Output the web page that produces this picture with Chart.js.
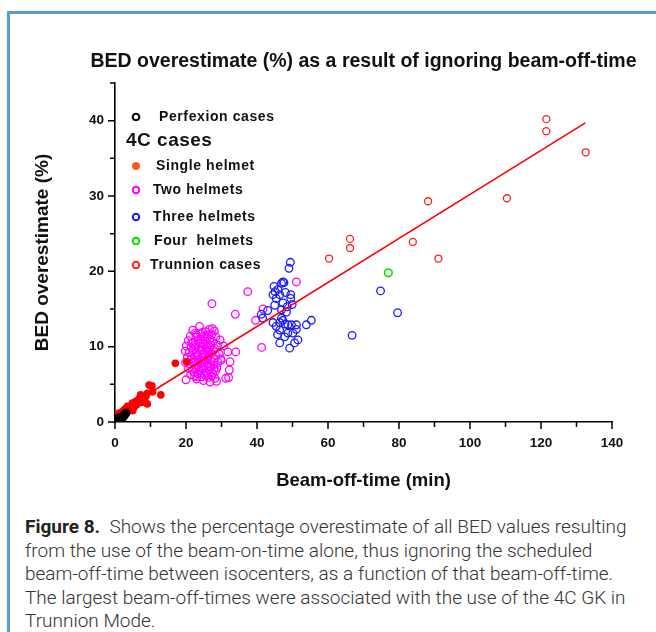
<!DOCTYPE html>
<html>
<head>
<meta charset="utf-8">
<script src="https://cdn.jsdelivr.net/npm/chart.js@4.4.1/dist/chart.umd.min.js"></script>
<style>
  html, body { margin: 0; padding: 0; background: #fff; }
  body { width: 656px; height: 632px; position: relative; overflow: hidden; }
  .frame {
    position: absolute; left: 7px; top: 11px; right: -10px; bottom: -10px;
    border-left: 3px solid #5b9bd5; border-top: 3px solid #5b9bd5;
  }
  #wrap { position: absolute; left: 0; top: 0; width: 656px; height: 500px; }
  .caption {
    position: absolute; left: 25px; top: 515px;
    font-family: Roboto, "Liberation Sans", sans-serif; font-weight: 300;
    font-size: 19px; line-height: 23.5px; color: #333; white-space: nowrap;
  }
  .caption b { font-weight: 700; color: #222; }
</style>
</head>
<body>
<div class="frame"></div>
<div id="wrap"><canvas id="chart" width="656" height="500"></canvas></div>
<div class="caption">
  <div><b>Figure 8.</b>&nbsp; Shows the percentage overestimate of all BED values resulting</div>
  <div>from the use of the beam-on-time alone, thus ignoring the scheduled</div>
  <div>beam-off-time between isocenters, as a function of that beam-off-time.</div>
  <div>The largest beam-off-times were associated with the use of the 4C GK in</div>
  <div>Trunnion Mode.</div>
</div>
<script>
// Beam-off-time (min) vs BED overestimate (%)
const chartTitle = 'BED overestimate (%) as a result of ignoring beam-off-time';

const perfexionX = [0.2, 0.4, 0.5, 0.7, 0.8, 1.0, 1.1, 1.3, 1.4, 1.6, 1.7, 1.9, 2.0, 2.2, 2.3, 2.5, 2.6, 2.8, 3.0, 3.2, 0.9, 1.5, 2.1, 0.3, 1.2];
const perfexionY = [0.1, 0.1, 0.2, 0.3, 0.2, 0.4, 0.3, 0.5, 0.4, 0.6, 0.5, 0.7, 0.6, 0.8, 0.7, 0.9, 0.8, 1.0, 1.1, 1.2, 0.5, 0.3, 0.5, 0.0, 0.6];

const singleX = [0.1, 1.1, 1.6, 2.1, 2.6, 3.0, 3.4, 3.5, 3.9, 4.0, 4.4, 4.6, 4.9, 5.2, 5.4, 5.8, 6.1, 6.3, 6.8, 7.2, 7.7, 8.2, 8.7, 9.1, 9.1, 9.6, 10.4, 10.6, 12.9, 17.0, 20.2, 5.0, 6.5, 7.5];
const singleY = [0.0, 1.2, 1.1, 1.4, 1.6, 1.8, 1.4, 2.1, 1.7, 2.0, 1.6, 2.2, 2.5, 1.9, 2.0, 2.7, 2.3, 2.5, 3.1, 3.6, 3.4, 2.9, 3.4, 3.8, 2.4, 4.9, 4.8, 4.0, 3.6, 7.8, 8.0, 1.5, 2.9, 2.6];

const twoX = [
  21.9, 23.8, 26.6, 28.0, 22.6, 24.6, 25.5, 27.3, 21.2, 23.1,
  24.1, 25.9, 26.8, 28.4, 20.6, 22.0, 23.4, 24.7, 25.3, 26.2,
  27.5, 28.9, 20.1, 21.4, 22.5, 23.7, 24.3, 25.6, 26.7, 27.8,
  19.8, 20.9, 22.1, 23.0, 24.0, 24.9, 25.9, 26.4, 27.2, 28.3,
  29.4, 20.4, 21.6, 22.7, 23.5, 24.5, 25.4, 26.1, 27.0, 28.0,
  29.0, 19.9, 21.0, 22.2, 23.3, 24.2, 25.0, 26.0, 26.9, 27.8,
  28.7, 20.7, 21.8, 22.9, 23.9, 24.8, 25.7, 26.6, 27.5, 28.4,
  21.3, 22.4, 23.4, 24.4, 25.3, 26.3, 27.2, 28.2, 23.0, 24.9,
  26.8, 20.0, 22.8, 23.9, 25.1, 24.4, 25.8, 23.3, 24.7, 25.6,
  22.4, 26.5, 23.7, 24.1, 22.9, 26.0, 27.4, 21.6, 27.0, 28.0,
  21.5, 29.8, 22.3, 25.9, 27.9, 24.3, 23.1, 26.3,
  27.3, 37.4, 33.9, 39.6, 41.7, 41.3, 51.1, 29.9, 31.8, 34.0,
  32.4, 32.2, 31.2, 32.0, 28.6, 30.6, 29.6
];
const twoY = [
  12.2, 12.7, 12.3, 12.1, 11.8, 11.9, 12.0, 11.6, 11.4, 11.3,
  11.0, 11.2, 11.0, 11.3, 10.8, 10.6, 10.7, 10.4, 10.8, 10.3,
  10.6, 10.2, 10.1, 9.9, 10.2, 9.8, 10.0, 9.7, 9.9, 9.5,
  9.4, 9.2, 9.5, 9.1, 9.4, 9.0, 9.3, 8.8, 9.1, 8.9,
  9.0, 8.6, 8.4, 8.7, 8.3, 8.6, 8.2, 8.5, 8.1, 8.4,
  7.9, 7.9, 7.7, 7.9, 7.5, 7.8, 7.4, 7.7, 7.3, 7.6,
  7.2, 7.1, 6.9, 7.2, 6.8, 7.0, 6.6, 6.9, 6.5, 6.8,
  6.3, 6.1, 6.4, 6.0, 6.2, 5.9, 6.1, 5.8, 5.7, 5.5,
  5.3, 5.6, 10.0, 10.5, 11.4, 9.6, 10.0, 8.9, 8.0, 8.8,
  8.1, 7.4, 7.2, 11.7, 11.6, 11.6, 12.4, 10.5, 10.2, 9.8,
  8.8, 8.4, 6.6, 6.3, 7.0, 7.3, 6.0, 9.5,
  15.7, 17.3, 14.3, 13.5, 15.0, 9.9, 18.6, 8.2, 9.3, 9.3,
  8.0, 6.9, 5.8, 5.9, 5.4, 10.1, 10.9
];

const threeX = [
  49.4, 49.0, 47.3, 46.9, 47.6, 44.8, 45.9, 44.5, 45.4, 46.4,
  49.5, 49.5, 45.0, 47.3, 46.9, 48.3, 41.2, 41.6, 46.9, 47.3,
  46.4, 44.5, 45.4, 48.7, 49.7, 51.1, 51.1, 53.9, 55.3, 46.4,
  48.7, 50.1, 47.8, 46.4, 49.2, 50.6, 51.5, 43.0, 45.1, 48.5,
  47.9, 45.8, 49.9, 48.0, 66.8, 74.8, 79.6
];
const threeY = [
  21.2, 20.4, 18.6, 18.4, 18.5, 18.0, 17.6, 16.9, 16.4, 16.9,
  16.9, 16.4, 15.5, 15.8, 14.9, 14.6, 14.3, 13.8, 13.8, 13.5,
  13.2, 13.2, 12.7, 12.9, 12.9, 12.9, 12.3, 12.9, 13.5, 12.2,
  11.8, 11.8, 11.3, 10.5, 9.8, 10.5, 10.9, 14.8, 17.3, 15.3,
  13.0, 11.6, 15.6, 17.2, 11.5, 17.4, 14.5
];

const fourX = [77.0];
const fourY = [19.8];

const trunnionX = [60.3, 66.2, 66.2, 83.9, 88.2, 91.1, 110.4, 121.5, 121.5, 132.6];
const trunnionY = [21.7, 24.3, 23.1, 23.9, 29.3, 21.7, 29.7, 40.2, 38.6, 35.8];

const fitX = [0, 132.5];
const fitY = [1.0, 39.7];

const legendLabels = ['Perfexion cases', '4C cases', 'Single helmet', 'Two helmets', 'Three helmets', 'Four  helmets', 'Trunnion cases'];
const legendColors = ['#000000', null, '#ff5a1e', '#ff00ff', '#1a1aff', '#00e000', '#ff2020'];

const axisFont = '"Liberation Sans", Arial, sans-serif';

const pts = (xs, ys) => xs.map((x, i) => ({ x: x, y: ys[i] }));

// title centred over the plot area
const plotTitle = {
  id: 'plotTitle',
  afterDraw (chart) {
    const { ctx, chartArea } = chart;
    ctx.save();
    ctx.font = 'bold 19.5px ' + axisFont;
    ctx.fillStyle = '#111';
    ctx.textAlign = 'center';
    ctx.textBaseline = 'middle';
    ctx.fillText(chartTitle, (chartArea.left + chartArea.right) / 2, chartArea.top - 21);
    ctx.restore();
  }
};

// tick marks: long at labelled values, short in between
const tickMarks = {
  id: 'tickMarks',
  afterDraw (chart) {
    const { ctx, scales: { x, y } } = chart;
    ctx.save();
    ctx.strokeStyle = '#000';
    ctx.lineWidth = 1.5;
    ctx.beginPath();
    x.ticks.forEach(t => {
      const px = x.getPixelForValue(t.value);
      ctx.moveTo(px, x.top);
      ctx.lineTo(px, x.top + (t.value % 20 === 0 ? 7 : 5));
    });
    y.ticks.forEach(t => {
      const py = y.getPixelForValue(t.value);
      ctx.moveTo(y.right, py);
      ctx.lineTo(y.right - (t.value % 10 === 0 ? 7 : 5), py);
    });
    ctx.stroke();
    ctx.restore();
  }
};

// legend block in the upper left of the plot
const plotLegend = {
  id: 'plotLegend',
  afterDraw (chart) {
    const { ctx, chartArea } = chart;
    const rowY = [34, 58, 83, 107, 134, 158, 182];
    const textX = [44, 11, 41, 38, 38, 39, 35];
    const markX = chartArea.left + 21;
    ctx.save();
    ctx.textBaseline = 'middle';
    ctx.textAlign = 'left';
    legendLabels.forEach((label, i) => {
      const yy = chartArea.top + rowY[i];
      const color = legendColors[i];
      if (color) {
        ctx.beginPath();
        if (i === 2) {
          ctx.fillStyle = color;
          ctx.arc(markX, yy, 4, 0, Math.PI * 2);
          ctx.fill();
        } else {
          ctx.arc(markX, yy, 3.3, 0, Math.PI * 2);
          ctx.strokeStyle = color;
          ctx.lineWidth = 2;
          ctx.stroke();
        }
        ctx.font = 'bold 14px ' + axisFont;
        ctx.letterSpacing = '0.6px';
      } else {
        ctx.font = 'bold 19px ' + axisFont;
        ctx.letterSpacing = '0.5px';
      }
      ctx.fillStyle = '#111';
      ctx.fillText(label, chartArea.left + textX[i], yy);
    });
    ctx.restore();
  }
};

const openCircle = (color, extra) => Object.assign({
  type: 'scatter',
  pointStyle: 'circle',
  pointRadius: 3.8,
  pointBorderWidth: 1.3,
  pointBorderColor: color,
  pointBackgroundColor: 'rgba(0,0,0,0)',
  borderColor: color,
  backgroundColor: 'rgba(0,0,0,0)'
}, extra);

new Chart(document.getElementById('chart'), {
  type: 'scatter',
  data: {
    datasets: [
      openCircle('#000000', { label: 'Perfexion cases', data: pts(perfexionX, perfexionY), pointRadius: 3.3, pointBorderWidth: 1.6 }),
      {
        type: 'line',
        label: 'Fit',
        data: pts(fitX, fitY),
        borderColor: '#ff0000',
        borderWidth: 1.6,
        pointRadius: 0,
        fill: false
      },
      {
        type: 'scatter',
        label: 'Single helmet',
        data: pts(singleX, singleY),
        pointRadius: 3.8,
        pointBorderWidth: 0,
        pointBackgroundColor: '#ff0000',
        backgroundColor: '#ff0000'
      },
      openCircle('#ff2020', { label: 'Trunnion cases', data: pts(trunnionX, trunnionY), pointRadius: 3.5 }),
      openCircle('#00e000', { label: 'Four helmets', data: pts(fourX, fourY), pointBorderWidth: 1.6 }),
      openCircle('#1a1aff', { label: 'Three helmets', data: pts(threeX, threeY) }),
      openCircle('#ff00ff', { label: 'Two helmets', data: pts(twoX, twoY) })
    ]
  },
  options: {
    responsive: false,
    animation: false,
    devicePixelRatio: 1,
    layout: { padding: { left: 0, right: 44, top: 83, bottom: 0 } },
    plugins: {
      legend: { display: false },
      tooltip: { enabled: false },
      title: { display: false }
    },
    scales: {
      x: {
        type: 'linear',
        min: 0,
        max: 140,
        grid: { display: false, drawTicks: false },
        border: { display: true, color: '#000', width: 1.6 },
        ticks: {
          stepSize: 10,
          padding: 13,
          color: '#111',
          font: { family: axisFont, size: 13.5, weight: 'bold' },
          callback: v => (v % 20 === 0 ? String(v) : '')
        },
        title: {
          display: true,
          text: 'Beam-off-time (min)',
          color: '#111',
          font: { family: axisFont, size: 18.5, weight: 'bold', lineHeight: 1.2 },
          padding: { top: 0, bottom: 8 }
        },
        afterFit: s => { s.height = 78; s.paddingLeft = 0; s.paddingRight = 0; }
      },
      y: {
        type: 'linear',
        min: 0,
        max: 45,
        grid: { display: false, drawTicks: false },
        border: { display: true, color: '#000', width: 1.6 },
        ticks: {
          stepSize: 5,
          padding: 11,
          color: '#111',
          font: { family: axisFont, size: 13.5, weight: 'bold' },
          callback: v => (v % 10 === 0 ? String(v) : '')
        },
        title: {
          display: true,
          text: 'BED overestimate (%)',
          color: '#111',
          font: { family: axisFont, size: 19, weight: 'bold', lineHeight: 1.2 },
          padding: { top: 31, bottom: 0 }
        },
        afterFit: s => { s.width = 115; s.paddingTop = 0; s.paddingBottom = 0; }
      }
    }
  },
  plugins: [plotTitle, tickMarks, plotLegend]
});
</script>
</body>
</html>
